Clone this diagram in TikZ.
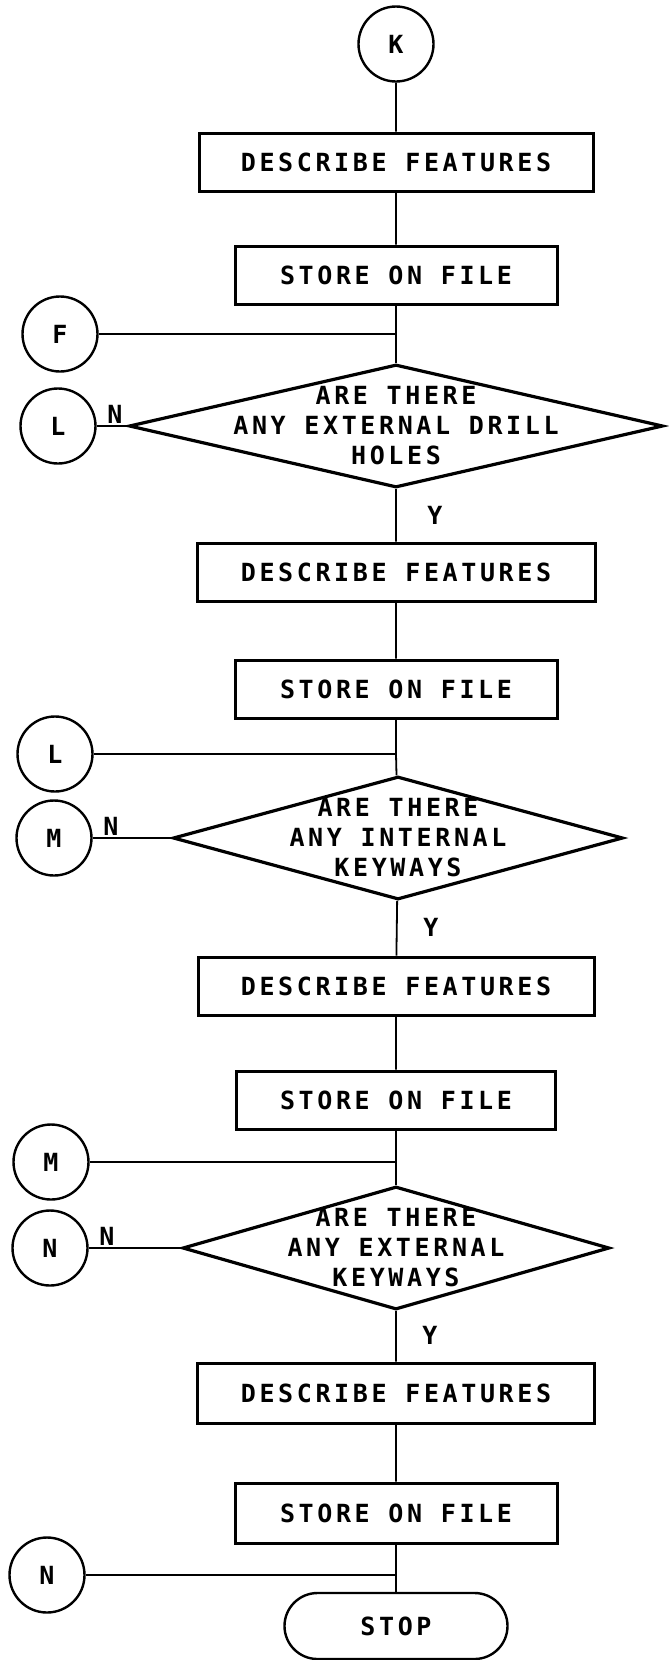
\documentclass[tikz,border=0pt]{standalone}
\usepackage{fontspec}
\newfontfamily\plotter[LetterSpace=14.5]{DejaVu Sans Mono Bold}
\usetikzlibrary{shapes.geometric}

\begin{document}
\begin{tikzpicture}[x=1pt, y=-1pt,
    every node/.style={font=\plotter\fontsize{25}{30}\selectfont},
    proc/.style={draw, line width=3pt, minimum height=58pt, inner sep=0pt},
    conn/.style={draw, circle, line width=2.4pt, minimum size=75pt, inner sep=0pt},
    query/.style={draw, diamond, line width=3.2pt, minimum height=123pt, inner sep=0pt},
    term/.style={draw, rounded corners=33pt, line width=2.4pt, minimum width=223pt, minimum height=66pt},
    trunk/.style={line width=1.8pt},
    side/.style={line width=2.6pt}]
    \useasboundingbox (0,0) rectangle (669,1660);

    % first block: drill holes
    \node[conn] (k) at (396,44) {K};
    \node[proc, minimum width=394pt] (desc1) at (396,162) {DESCRIBE FEATURES};
    \node[proc, minimum width=322pt] (store1) at (396,275) {STORE ON FILE};
    \node[conn] (f) at (60,334) {F};
    \coordinate (jf) at (396,334);
    \node[query, minimum width=534pt] (q1) at (396,426) {};
    \node[align=center] (q1t) at (q1) {ARE THERE\\ANY EXTERNAL DRILL\\HOLES};
    \node[conn] (l1) at (58,426) {L};
    \node (n1) at (115,414) {N};
    \node (y1) at (435,515) {Y};

    % second block: internal keyways
    \node[proc, minimum width=398pt] (desc2) at (396,572) {DESCRIBE FEATURES};
    \node[proc, minimum width=322pt] (store2) at (396,689) {STORE ON FILE};
    \node[conn] (l2) at (55,754) {L};
    \coordinate (jl) at (396,754);
    \node[query, minimum width=450pt] (q2) at (398,838) {};
    \node[align=center] (q2t) at (q2) {ARE THERE\\ANY INTERNAL\\KEYWAYS};
    \node[conn] (m1) at (54,838) {M};
    \node (n2) at (111,826) {N};
    \node (y2) at (431,927) {Y};

    % third block: external keyways
    \node[proc, minimum width=396pt] (desc3) at (396,986) {DESCRIBE FEATURES};
    \node[proc, minimum width=319pt] (store3) at (396,1100) {STORE ON FILE};
    \node[conn] (m2) at (51,1162) {M};
    \coordinate (jm) at (396,1162);
    \node[query, minimum width=427pt] (q3) at (396,1248) {};
    \node[align=center] (q3t) at (q3) {ARE THERE\\ANY EXTERNAL\\KEYWAYS};
    \node[conn] (n3) at (50,1248) {N};
    \node (n4) at (107,1236) {N};
    \node (y3) at (430,1335) {Y};

    % last block
    \node[proc, minimum width=397pt, minimum height=60pt] (desc4) at (396,1393) {DESCRIBE FEATURES};
    \node[proc, minimum width=322pt, minimum height=60pt] (store4) at (396,1513) {STORE ON FILE};
    \node[conn] (n5) at (47,1575) {N};
    \coordinate (jn) at (396,1575);
    \node[term] (stop) at (396,1626) {STOP};

    % main line
    \draw[trunk] (k) -- (desc1) -- (store1) -- (jf) -- (q1) -- (desc2) -- (store2)
        -- (jl) -- (q2) -- (desc3) -- (store3) -- (jm) -- (q3) -- (desc4) -- (store4)
        -- (jn) -- (stop);

    % connectors coming in from the left
    \draw[side] (f) -- (jf);
    \draw[side] (l1) -- (q1);
    \draw[side] (l2) -- (jl);
    \draw[side] (m1) -- (q2);
    \draw[side] (m2) -- (jm);
    \draw[side] (n3) -- (q3);
    \draw[side] (n5) -- (jn);
\end{tikzpicture}
\end{document}
